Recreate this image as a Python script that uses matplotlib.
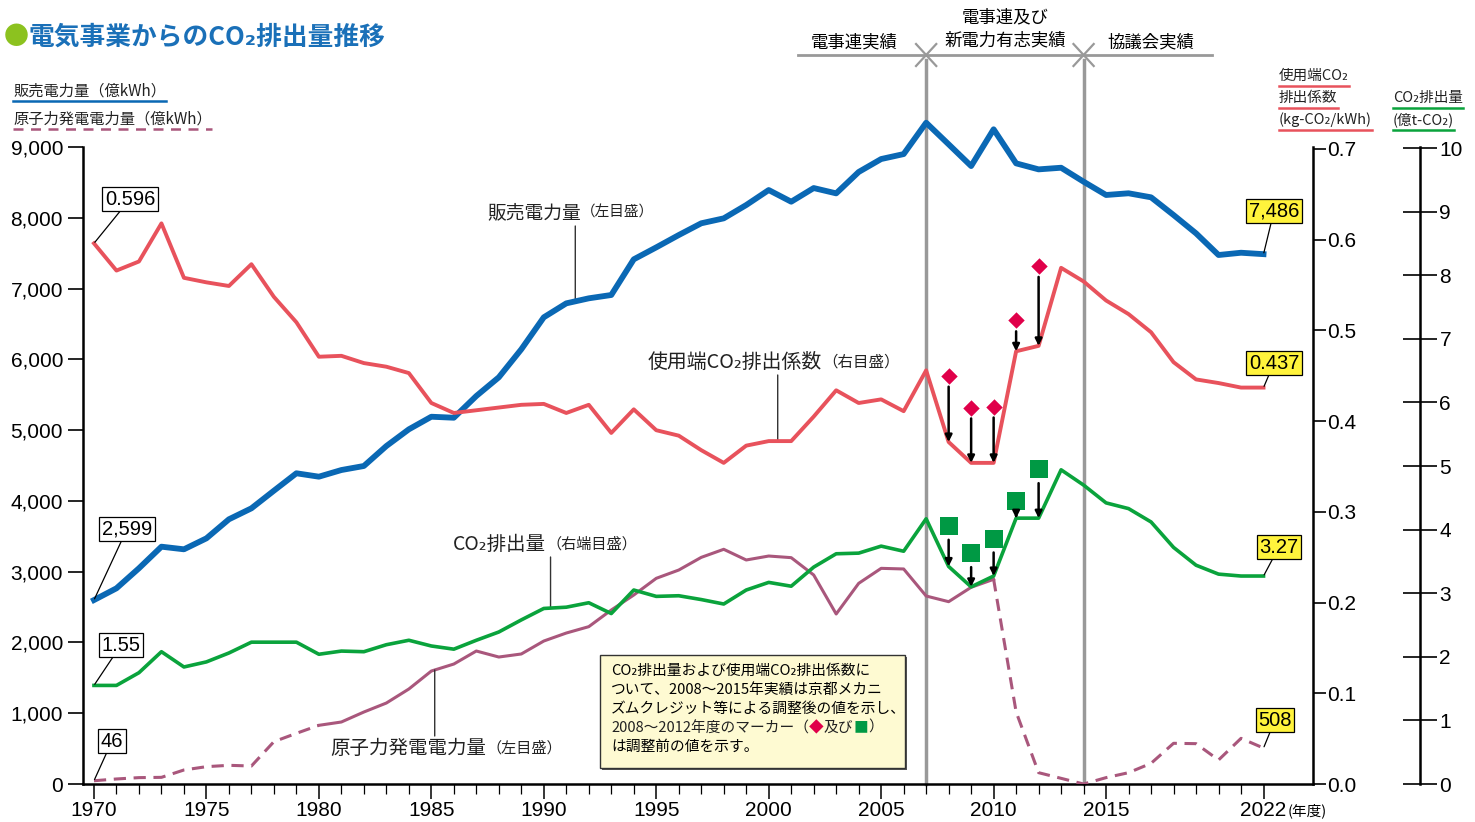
import numpy as np
import matplotlib.pyplot as plt
from matplotlib.patches import Rectangle
from matplotlib.lines import Line2D
import matplotlib.transforms as mtransforms

plt.rcParams['font.family'] = ['Noto Sans CJK JP', 'DejaVu Sans']
NUM = ['Liberation Sans', 'DejaVu Sans']

# ---- データ ----
years = np.arange(1970, 2023)

# 販売電力量 (億kWh)
sales = [2599, 2765, 3048, 3353, 3316, 3471, 3740, 3895, 4144, 4390,
         4342, 4436, 4493, 4775, 5011, 5189, 5175, 5482, 5746, 6142,
         6594, 6791, 6862, 6909, 7413, 7582, 7756, 7922, 7992, 8180,
         8392, 8227, 8420, 8345, 8647, 8830, 8900, 9343, 9038, 8731,
         9250, 8769, 8684, 8707, 8510, 8322, 8346, 8289, 8039, 7780,
         7474, 7506, 7486]

# 使用端CO2排出係数 (kg-CO2/kWh)
coef = [0.596, 0.566, 0.576, 0.618, 0.558, 0.553, 0.549, 0.573, 0.537, 0.509,
        0.471, 0.472, 0.464, 0.460, 0.453, 0.420, 0.409, 0.412, 0.415, 0.418,
        0.419, 0.409, 0.418, 0.387, 0.413, 0.390, 0.384, 0.368, 0.354, 0.373,
        0.378, 0.378, 0.405, 0.434, 0.420, 0.424, 0.411, 0.456, 0.377, 0.354,
        0.354, 0.477, 0.483, 0.569, 0.554, 0.533, 0.518, 0.498, 0.465, 0.446,
        0.442, 0.437, 0.437]

# CO2排出量 (億t-CO2)
co2 = [1.55, 1.55, 1.75, 2.08, 1.84, 1.92, 2.06, 2.23, 2.23, 2.23,
       2.04, 2.09, 2.08, 2.19, 2.26, 2.17, 2.12, 2.26, 2.39, 2.58,
       2.76, 2.78, 2.85, 2.68, 3.05, 2.95, 2.96, 2.90, 2.83, 3.05,
       3.17, 3.11, 3.41, 3.62, 3.63, 3.74, 3.66, 4.17, 3.42, 3.10,
       3.27, 4.18, 4.18, 4.94, 4.70, 4.42, 4.33, 4.12, 3.72, 3.44,
       3.30, 3.27, 3.27]

# 原子力発電電力量 (億kWh)
nuclear = [46, 71, 90, 94, 198, 245, 264, 254, 598, 716,
           829, 876, 1017, 1144, 1342, 1596, 1695, 1879, 1794, 1837,
           2020, 2133, 2223, 2458, 2670, 2906, 3023, 3202, 3316, 3165,
           3221, 3198, 2953, 2402, 2835, 3047, 3038, 2656, 2576, 2779,
           2892, 1018, 160, 80, 0, 90, 160, 292, 575, 570,
           339, 645, 508]

# 調整前の値 (2008～2012年度)
adj_years = [2008, 2009, 2010, 2011, 2012]
coef_before = [0.450, 0.415, 0.416, 0.511, 0.571]
co2_before = [4.06, 3.63, 3.86, 4.45, 4.95]

period_lines = [2007, 2014]
period_labels = ['電事連実績', '電事連及び\n新電力有志実績', '協議会実績']

BLUE = '#0a68b4'
RED = '#e8525c'
GREEN = '#0aa33c'
PURPLE = '#a9577c'
GRAY = '#999999'

W, H = 1475, 822
fig = plt.figure(figsize=(W / 100, H / 100), dpi=100)

# 主軸 (左: 億kWh)
AX_L, AX_R = 82.5, 1313
ax = fig.add_axes([AX_L / W, 38 / H, (AX_R - AX_L) / W, 637 / H])
ax.set_xlim(1969.49, 2024.2)
ax.set_ylim(0, 9000)
ax.patch.set_alpha(0)
ax.spines['top'].set_visible(False)
ax.spines['right'].set_visible(False)
ax.set_yticks(np.arange(0, 9001, 1000))
ax.set_yticklabels([f'{v:,}' for v in range(0, 9001, 1000)], family=NUM, fontsize=15)
ax.tick_params(axis='y', length=11, width=1.2, pad=3)
ax.set_xticks([1970, 1975, 1980, 1985, 1990, 1995, 2000, 2005, 2010, 2015, 2022])
ax.set_xticklabels(['1970', '1975', '1980', '1985', '1990', '1995', '2000', '2005',
                    '2010', '2015', '2022'], family=NUM, fontsize=15)
ax.set_xticks(years, minor=True)
ax.tick_params(axis='x', which='major', length=11, width=1.1, pad=1)
ax.tick_params(axis='x', which='minor', length=7, width=0.9)
for s in ['left', 'bottom']:
    ax.spines[s].set_linewidth(1.8)

# 右軸 (排出係数)
ax2 = ax.twinx()
ax2.set_ylim(0, 0.7 * 637 / 635)
ax2.set_yticks(np.arange(0, 0.71, 0.1))
ax2.set_yticklabels([f'{v:.1f}' for v in np.arange(0, 0.71, 0.1)], family=NUM, fontsize=15)
ax2.tick_params(axis='y', length=9, width=1.2, pad=1)
ax2.spines['right'].set_linewidth(1.8)
for s in ['top', 'left', 'bottom']:
    ax2.spines[s].set_visible(False)

# 右端軸 (CO2排出量)
ax3 = ax.twinx()
ax3.set_ylim(0, 10 * 637 / 636)
ax3.spines['right'].set_position(('axes', (1420 - AX_L) / (AX_R - AX_L)))
ax3.spines['right'].set_linewidth(1.8)
for s in ['top', 'left', 'bottom']:
    ax3.spines[s].set_visible(False)
ax3.set_yticks(np.arange(0, 11, 1))
ax3.set_yticklabels([str(v) for v in range(0, 11)], family=NUM, fontsize=15)
ax3.tick_params(axis='y', direction='inout', length=24, width=1.2, pad=2)

# 期間区分線
for yr in period_lines:
    ax.axvline(yr, ymin=0, ymax=(784 - 60) / 637, color=GRAY, lw=2.5,
               clip_on=False, zorder=1)

# 折れ線
yrs = years
nuc = np.array(nuclear, dtype=float)
i1980 = list(yrs).index(1980)
i2010 = list(yrs).index(2010)
ax.plot(yrs[:i1980 + 1], nuc[:i1980 + 1], color=PURPLE, lw=2.2, ls=(0, (4, 2.5)), zorder=3)
ax.plot(yrs[i1980:i2010 + 1], nuc[i1980:i2010 + 1], color=PURPLE, lw=2.2, zorder=3)
ax.plot(yrs[i2010:], nuc[i2010:], color=PURPLE, lw=2.2, ls=(0, (4, 2.5)), zorder=3)
ax.plot(yrs, sales, color=BLUE, lw=4.2, zorder=4, clip_on=False)
ax2.plot(yrs, coef, color=RED, lw=2.8, zorder=4)
ax3.plot(yrs, co2, color=GREEN, lw=2.6, zorder=4)

# 調整前マーカーと矢印
adj_coef = [coef[list(yrs).index(y)] for y in adj_years]
adj_co2 = [co2[list(yrs).index(y)] for y in adj_years]
ax2.scatter(adj_years, coef_before, marker='D', s=70, color='#e0004a', zorder=6,
            linewidths=0)
ax3.scatter(adj_years, co2_before, marker='s', s=150, color='#009944', zorder=6,
            linewidths=0)
for x, b, a in zip(adj_years, coef_before, adj_coef):
    ax2.annotate('', xy=(x, a), xytext=(x, b - 0.012),
                 arrowprops=dict(arrowstyle='-|>', color='black', lw=1.8,
                                 mutation_scale=10, shrinkA=0, shrinkB=0), zorder=7)
for x, b, a in zip(adj_years, co2_before, adj_co2):
    ax3.annotate('', xy=(x, a), xytext=(x, b - 0.22),
                 arrowprops=dict(arrowstyle='-|>', color='black', lw=1.8,
                                 mutation_scale=10, shrinkA=0, shrinkB=0), zorder=7)

# 値ラベル
def value_box(axis, text, x, y, pos, fc):
    axis.annotate(text, xy=(x, y), xytext=(pos[0], H - pos[1]),
                  textcoords='figure pixels', ha='center', va='center',
                  family=NUM, fontsize=14.5, zorder=8,
                  bbox=dict(boxstyle='square,pad=0.12', fc=fc, ec='black', lw=0.9),
                  arrowprops=dict(arrowstyle='-', color='black', lw=0.9,
                                  shrinkA=0, shrinkB=1))

value_box(ax2, f'{coef[0]:.3f}', yrs[0], coef[0], (130, 199), 'white')
value_box(ax, f'{sales[0]:,}', yrs[0], sales[0], (127, 529), 'white')
value_box(ax3, f'{co2[0]:.2f}', yrs[0], co2[0], (121, 645), 'white')
value_box(ax, f'{nuclear[0]}', yrs[0], nuclear[0], (112, 741), 'white')
value_box(ax, f'{sales[-1]:,}', yrs[-1], sales[-1], (1274, 211), '#fff33c')
value_box(ax2, f'{coef[-1]:.3f}', yrs[-1], coef[-1], (1274, 363), '#fff33c')
value_box(ax3, f'{co2[-1]:.2f}', yrs[-1], co2[-1], (1279, 547), '#fff33c')
value_box(ax, f'{nuclear[-1]}', yrs[-1], nuclear[-1], (1275, 720), '#fff33c')

# 系列名ラベル (引出線つき)
def series_label(axis, main, sub, px, py, line_top, series, year, fs=13.5):
    t = fig.text(px / W, 1 - py / H, main, fontsize=fs, va='center', ha='left',
                 color='#222222')
    fig.canvas.draw()
    bb = t.get_window_extent()
    fig.text(bb.x1 / W, 1 - py / H, sub, fontsize=fs * 0.78, va='center', ha='left',
             color='#222222')
    val = np.interp(year, yrs, series)
    axis.annotate('', xy=(year, val), xytext=(year, H - line_top),
                  textcoords=('data', 'figure pixels'),
                  arrowprops=dict(arrowstyle='-', color='#333333', lw=1.0,
                                  shrinkA=0, shrinkB=0))

series_label(ax, '販売電力量', '（左目盛）', 487, 213, 226, sales, 1991.4)
series_label(ax2, '使用端CO₂排出係数', '（右目盛）', 648, 362, 375, coef, 2000.4, fs=14.3)
series_label(ax3, 'CO₂排出量', '（右端目盛）', 453, 544, 557, co2, 1990.3, fs=14)
series_label(ax, '原子力発電電力量', '（左目盛）', 330, 748, 736, nuclear, 1985.15, fs=14)

# "(年度)"
fig.text(1288 / W, 1 - 811 / H, '(年度)', fontsize=10.5, va='center', ha='left')

# タイトル
fig.text(4 / W, 1 - 37 / H, '●', color='#8cc21f', fontsize=18, va='center', ha='left')
fig.text(28 / W, 1 - 37 / H, '電気事業からのCO₂排出量推移', color='#1a70b8',
         fontsize=18.5, fontweight='bold', va='center', ha='left')

# 軸見出し (下線つき)
def underlined(text, px, py, color, ls='-', fs=11):
    t = fig.text(px / W, 1 - py / H, text, fontsize=fs, va='center', ha='left',
                 color='#222222')
    fig.canvas.draw()
    bb = t.get_window_extent()
    yb = 1 - (py + 10) / H
    fig.add_artist(Line2D([bb.x0 / W, bb.x1 / W], [yb, yb], color=color, lw=1.8,
                          ls=ls))

underlined('販売電力量（億kWh）', 13, 91, BLUE)
underlined('原子力発電電力量（億kWh）', 13, 119, PURPLE, ls=(0, (4, 3)))
underlined('使用端CO₂', 1279, 76, RED, fs=10.5)
underlined('排出係数', 1279, 98, RED, fs=10.5)
underlined('(kg-CO₂/kWh)', 1279, 120, RED, fs=10.5)
underlined('CO₂排出量', 1393, 98, GREEN, fs=10.5)
underlined('(億t-CO₂)', 1393, 120, GREEN, fs=10.5)

# 期間ヘッダー
trans = mtransforms.blended_transform_factory(ax.transData, fig.transFigure)
hy = 1 - 55 / H
fig.add_artist(Line2D([2001.3, 2019.7], [hy, hy], color=GRAY, lw=2, transform=trans))
dy = 11 / H
for yr in period_lines:
    fig.add_artist(Line2D([yr - 0.45, yr + 0.45], [hy + dy, hy - dy], color=GRAY,
                          lw=1.6, transform=trans))
    fig.add_artist(Line2D([yr - 0.45, yr + 0.45], [hy - dy, hy + dy], color=GRAY,
                          lw=1.6, transform=trans))
fig.text(2003.8, 1 - 42 / H, period_labels[0], transform=trans,
         fontsize=12.5, ha='center', va='center')
fig.text(0.5 * (2007 + 2014), 1 - 29 / H, period_labels[1], transform=trans,
         fontsize=12.5, ha='center', va='center', linespacing=1.35)
fig.text(2017.0, 1 - 42 / H, period_labels[2], transform=trans,
         fontsize=12.5, ha='center', va='center')

# 注記ボックス
fig.add_artist(Rectangle((602 / W, 1 - 770 / H), 305 / W, 113 / H,
                         transform=fig.transFigure, fc='#555555', ec='none', zorder=9))
fig.add_artist(Rectangle((600 / W, 1 - 768 / H), 305 / W, 113 / H,
                         transform=fig.transFigure, fc='#fefad2', ec='#333333',
                         lw=1, zorder=10))
note_lines = ['CO₂排出量および使用端CO₂排出係数に',
              'ついて、2008～2015年実績は京都メカニ',
              'ズムクレジット等による調整後の値を示し、']
NFS = 10.6
ny = 671
for line in note_lines:
    fig.text(611 / W, 1 - ny / H, line, fontsize=NFS, va='center', ha='left',
             zorder=11)
    ny += 19
parts = [('2008～2012年度のマーカー（', '#222222'), ('◆', '#e0004a'),
         ('及び', '#222222'), ('■', '#009944'), ('）', '#222222')]
xcur = 611
for txt, col in parts:
    t = fig.text(xcur / W, 1 - ny / H, txt, fontsize=NFS, va='center', ha='left',
                 color=col, zorder=11)
    fig.canvas.draw()
    xcur = t.get_window_extent().x1
ny += 19
fig.text(611 / W, 1 - ny / H, 'は調整前の値を示す。', fontsize=NFS, va='center',
         ha='left', zorder=11)

fig.savefig('out.png', dpi=100)
